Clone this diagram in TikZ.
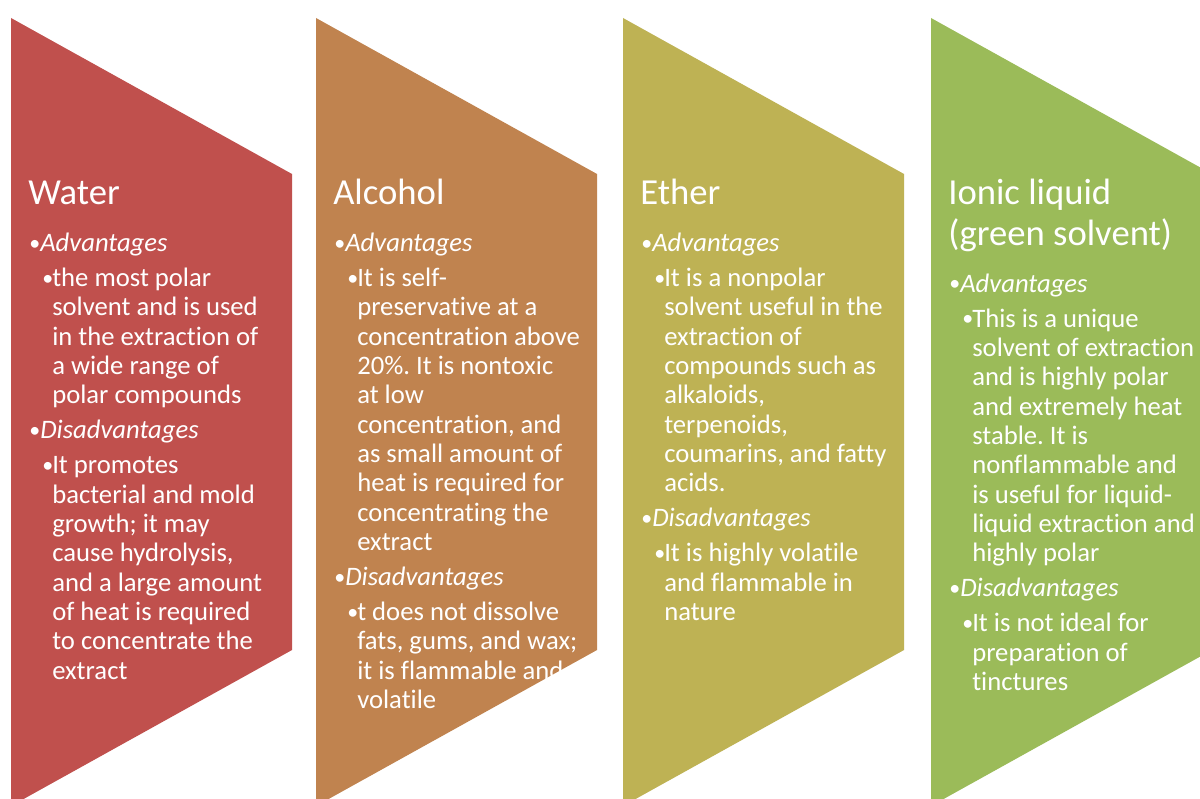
\documentclass[tikz,border=0pt]{standalone}
\usepackage{fontspec}
\setmainfont{Carlito}[Ligatures=CommonOff]
\frenchspacing

\definecolor{waterred}{HTML}{C0504D}
\definecolor{alcoholbrown}{HTML}{C0834F}
\definecolor{etherolive}{HTML}{BEB254}
\definecolor{ionicgreen}{HTML}{9BBB59}

% 列表层级
\newcommand{\bul}{\raisebox{0.9pt}{\fontsize{16.5}{16.5}\selectfont •}}
\newcommand{\lone}[1]{\makebox[8.25pt][l]{\bul}\textit{#1}}
\newcommand{\ltwo}[1]{\hspace*{9.75pt}\makebox[7.5pt][l]{\bul}#1}
\newcommand{\lmore}[1]{\hspace*{17.25pt}#1}
% 多行文字，基线取第一行
\newcommand{\stack}[1]{\begin{tabular}[t]{@{}l@{}}#1\end{tabular}}

\tikzset{
  heading/.style={anchor=base west, inner sep=0pt, text=white,
    font=\fontsize{27.5}{30.7}\selectfont},
  bodytext/.style={anchor=base west, inner sep=0pt, text=white,
    font=\fontsize{20}{22}\selectfont},
}

\begin{document}
\begin{tikzpicture}[x=0.75pt, y=-0.75pt]
    % 各列左边界与宽度
    \def\wa{11}
    \def\al{316}
    \def\et{623}
    \def\io{931}
    \def\w{281}

    % 画布
    \useasboundingbox (0,0) rectangle (1200,799);
    \fill[white] (0,0) rectangle (1200,799);
    \clip (0,0) rectangle (1200,799);

    % 四个色块
    \fill[waterred]     (\wa,18) -- (\wa+\w,174) -- (\wa+\w,650) -- (\wa,806) -- cycle;
    \fill[alcoholbrown] (\al,18) -- (\al+\w,174) -- (\al+\w,650) -- (\al,806) -- cycle;
    \fill[etherolive]   (\et,18) -- (\et+\w,174) -- (\et+\w,650) -- (\et,806) -- cycle;
    \fill[ionicgreen]   (\io,18) -- (\io+\w,174) -- (\io+\w,650) -- (\io,806) -- cycle;

    % 水
    \node[heading] (watertitle) at (\wa+17,204.3) {Water};
    \node[bodytext] (waterbody) at (\wa+18,251.3) {\stack{%
        \lone{Advantages}\\[4.3pt]
        \ltwo{the most polar}\\
        \lmore{solvent and is used}\\
        \lmore{in the extraction of}\\
        \lmore{a wide range of}\\
        \lmore{polar compounds}\\[4.3pt]
        \lone{Disadvantages}\\[4.3pt]
        \ltwo{It promotes}\\
        \lmore{bacterial and mold}\\
        \lmore{growth; it may}\\
        \lmore{cause hydrolysis,}\\
        \lmore{and a large amount}\\
        \lmore{of heat is required}\\
        \lmore{to concentrate the}\\
        \lmore{extract}}};

    % 乙醇
    \node[heading] (alcoholtitle) at (\al+17,204.3) {Alcohol};
    \node[bodytext] (alcoholbody) at (\al+18,251.3) {\stack{%
        \lone{Advantages}\\[4.3pt]
        \ltwo{It is self-}\\
        \lmore{preservative at a}\\
        \lmore{concentration above}\\
        \lmore{20\%. It is nontoxic}\\
        \lmore{at low}\\
        \lmore{concentration, and}\\
        \lmore{as small amount of}\\
        \lmore{heat is required for}\\
        \lmore{concentrating the}\\
        \lmore{extract}\\[4.3pt]
        \lone{Disadvantages}\\[4.3pt]
        \ltwo{t does not dissolve}\\
        \lmore{fats, gums, and wax;}\\
        \lmore{it is flammable and}\\
        \lmore{volatile}}};

    % 乙醚
    \node[heading] (ethertitle) at (\et+17,204.3) {Ether};
    \node[bodytext] (etherbody) at (\et+18,251.3) {\stack{%
        \lone{Advantages}\\[4.3pt]
        \ltwo{It is a nonpolar}\\
        \lmore{solvent useful in the}\\
        \lmore{extraction of}\\
        \lmore{compounds such as}\\
        \lmore{alkaloids,}\\
        \lmore{terpenoids,}\\
        \lmore{coumarins, and fatty}\\
        \lmore{acids.}\\[4.3pt]
        \lone{Disadvantages}\\[4.3pt]
        \ltwo{It is highly volatile}\\
        \lmore{and flammable in}\\
        \lmore{nature}}};

    % 离子液体
    \node[heading] (ionictitle) at (\io+17,204.3) {\stack{Ionic liquid\\(green solvent)}};
    \node[bodytext] (ionicbody) at (\io+18,292) {\stack{%
        \lone{Advantages}\\[4.3pt]
        \ltwo{This is a unique}\\
        \lmore{solvent of extraction}\\
        \lmore{and is highly polar}\\
        \lmore{and extremely heat}\\
        \lmore{stable. It is}\\
        \lmore{nonflammable and}\\
        \lmore{is useful for liquid-}\\
        \lmore{liquid extraction and}\\
        \lmore{highly polar}\\[4.3pt]
        \lone{Disadvantages}\\[4.3pt]
        \ltwo{It is not ideal for}\\
        \lmore{preparation of}\\
        \lmore{tinctures}}};

\end{tikzpicture}
\end{document}
